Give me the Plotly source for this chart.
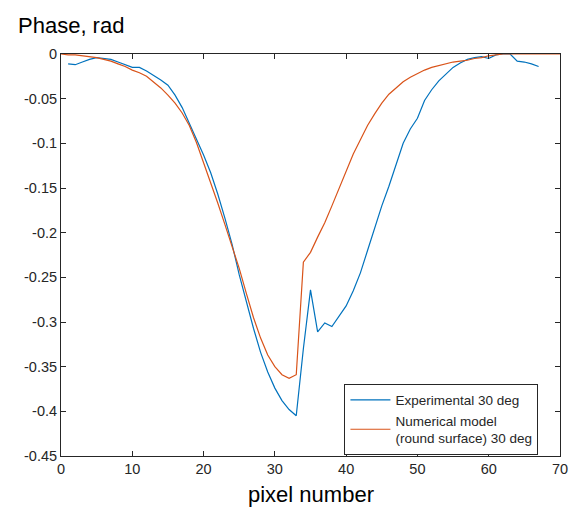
import plotly.graph_objects as go

# Experimental 30 deg (pixel 1..67)
exp_x = list(range(1, 68))
exp_y = [-0.011, -0.012, -0.009, -0.006, -0.004, -0.005, -0.006, -0.009, -0.012, -0.015,
         -0.015, -0.019, -0.024, -0.029, -0.035, -0.046, -0.060, -0.077, -0.095, -0.113,
         -0.133, -0.157, -0.184, -0.213, -0.247, -0.278, -0.307, -0.334, -0.356, -0.374,
         -0.388, -0.398, -0.405, -0.330, -0.264, -0.311, -0.301, -0.305, -0.294, -0.282,
         -0.265, -0.245, -0.220, -0.195, -0.170, -0.148, -0.124, -0.100, -0.084, -0.072,
         -0.052, -0.040, -0.030, -0.022, -0.015, -0.010, -0.006, -0.004, -0.003, -0.005,
         -0.001, 0.000, 0.000, -0.008, -0.009, -0.011, -0.014]

# Numerical model (round surface) 30 deg (pixel 0..70)
mod_x = list(range(0, 71))
mod_y = [0.000, -0.001, -0.001, -0.002, -0.003, -0.004, -0.006, -0.008, -0.011, -0.014,
         -0.018, -0.021, -0.025, -0.031, -0.038, -0.046, -0.055, -0.066, -0.080, -0.099,
         -0.121, -0.144, -0.167, -0.191, -0.215, -0.240, -0.268, -0.295, -0.318, -0.337,
         -0.350, -0.359, -0.363, -0.359, -0.233, -0.222, -0.205, -0.189, -0.170, -0.150,
         -0.132, -0.112, -0.096, -0.080, -0.067, -0.055, -0.045, -0.038, -0.031, -0.026,
         -0.022, -0.018, -0.015, -0.013, -0.011, -0.009, -0.008, -0.007, -0.005, -0.004,
         -0.002, -0.001, 0.000, 0.000, 0.000, 0.000, 0.000, 0.000, 0.000, 0.000, 0.000]

x_ticks = [0, 10, 20, 30, 40, 50, 60, 70]
y_ticks = [0, -0.05, -0.1, -0.15, -0.2, -0.25, -0.3, -0.35, -0.4, -0.45]
y_tick_labels = ["0", "-0.05", "-0.1", "-0.15", "-0.2", "-0.25", "-0.3", "-0.35", "-0.4", "-0.45"]

axis_color = "#262626"
font_family = "Liberation Sans, Arial, sans-serif"

fig = go.Figure()
fig.add_trace(go.Scatter(x=exp_x, y=exp_y, mode="lines", name="Experimental 30 deg",
                         line=dict(color="#0072BD", width=1.2)))
fig.add_trace(go.Scatter(x=mod_x, y=mod_y, mode="lines",
                         name="Numerical model<br>(round surface) 30 deg",
                         line=dict(color="#D95319", width=1.2)))

axis_common = dict(showgrid=False, zeroline=False, showline=True, linecolor=axis_color,
                   linewidth=1, mirror="ticks", ticks="inside", ticklen=5,
                   tickcolor=axis_color, tickwidth=1, automargin=False,
                   tickfont=dict(family=font_family, size=14.5, color=axis_color))

fig.update_xaxes(range=[0, 70], tickvals=x_ticks, ticktext=[str(v) for v in x_ticks],
                 **axis_common)
fig.update_yaxes(range=[-0.45, 0], tickvals=y_ticks, ticktext=y_tick_labels, **axis_common)

fig.add_annotation(text="Phase, rad", xref="paper", yref="paper", x=-0.09, y=1.07,
                   xanchor="left", yanchor="middle", showarrow=False,
                   font=dict(family=font_family, size=22, color="#000000"))
fig.add_annotation(text="pixel number", xref="paper", yref="paper", x=0.5, y=-0.095,
                   xanchor="center", yanchor="middle", showarrow=False,
                   font=dict(family=font_family, size=22, color="#000000"))

fig.update_layout(
    width=574, height=508,
    margin=dict(l=61, r=14, t=54, b=52, autoexpand=False),
    paper_bgcolor="white", plot_bgcolor="white",
    font=dict(family=font_family, color=axis_color),
    legend=dict(x=0.568, y=0.18, xanchor="left", yanchor="top",
                bgcolor="white", bordercolor="#262626", borderwidth=1,
                font=dict(family=font_family, size=13.5, color="#262626"),
                tracegroupgap=0, itemwidth=40),
    showlegend=True,
)

fig.write_html("out.html", config={"responsive": False, "displayModeBar": False},
               post_script="document.body.style.margin='0';document.body.style.overflow='hidden';")
